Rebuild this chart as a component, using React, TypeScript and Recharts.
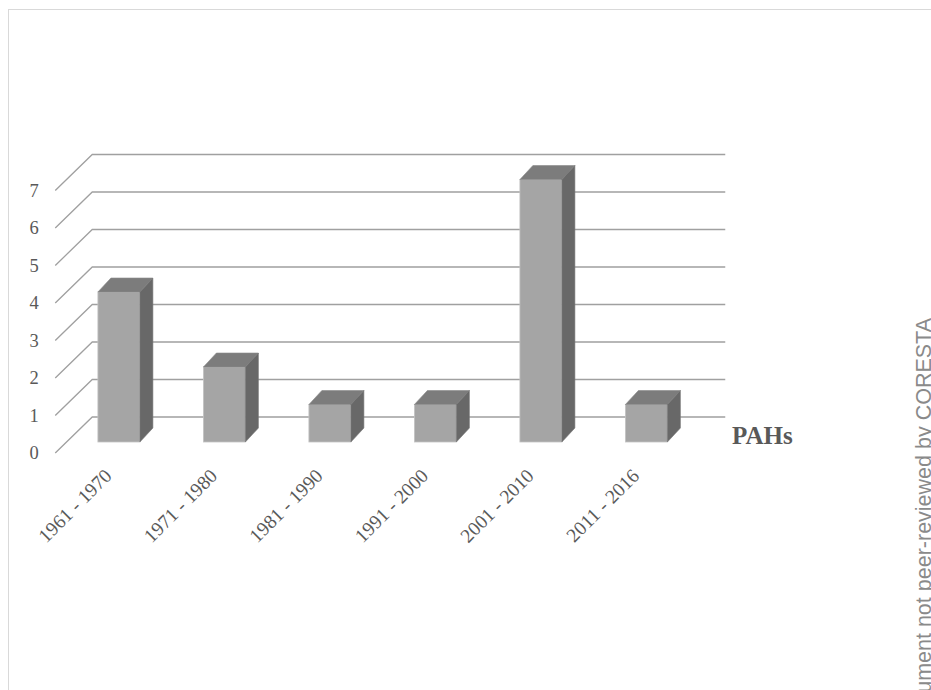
import { BarChart, Bar, XAxis, YAxis, CartesianGrid } from "recharts";

const categories = ["1961 - 1970", "1971 - 1980", "1981 - 1990", "1991 - 2000", "2001 - 2010", "2011 - 2016"];
const counts = [4, 2, 1, 1, 7, 1];
const yTicks = [0, 1, 2, 3, 4, 5, 6, 7];

const data = categories.map((name, i) => ({ name, value: counts[i] }));

// 3d offsets (depth of bars / walls)
const DX = 13;
const DY = 14;
const SERIF = "'Liberation Serif', 'Times New Roman', serif";
const LABEL = "#595959";

const Bar3D = (p: any) => {
  const { x, y, width, height } = p;
  if (!height) return null;
  const top = `${x},${y} ${x + DX},${y - DY} ${x + width + DX},${y - DY} ${x + width},${y}`;
  const side = `${x + width},${y} ${x + width + DX},${y - DY} ${x + width + DX},${y + height - DY} ${x + width},${y + height}`;
  return (
    <g>
      <rect x={x} y={y} width={width} height={height} fill="#a5a5a5" stroke="#c4c4c4" strokeWidth={0.8} />
      <polygon points={top} fill="#7c7c7c" stroke="#8a8a8a" strokeWidth={0.6} />
      <polygon points={side} fill="#686868" stroke="#777" strokeWidth={0.6} />
    </g>
  );
};

// slanted side-wall line + back-wall line for each y tick
const gridLine = (p: any) => {
  const { x1, x2, y1, index } = p;
  const fy = y1 + 11;
  const by = y1 - 25;
  const fx = x1 - 11;
  const bx = x1 + 26;
  return (
    <g key={`g-${index}`}>
      <polyline points={`${fx},${fy} ${bx},${by} ${x2 + 26},${by}`} fill="none" stroke="#a0a0a0" strokeWidth={1.3} />
    </g>
  );
};

const YTick = (p: any) => {
  const { y, payload } = p;
  return (
    <text x={34} y={y + 17} textAnchor="middle" fontFamily={SERIF} fontSize={18.5} fill={LABEL}>
      {payload.value}
    </text>
  );
};

const XTick = (p: any) => {
  const { x, payload } = p;
  const bx = x - 6;
  const by = 477;
  return (
    <text x={bx} y={by} textAnchor="end" transform={`rotate(-45 ${bx} ${by})`} fontFamily={SERIF} fontSize={19.5} fill={LABEL}>
      {payload.value}
    </text>
  );
};

export default function App() {
  return (
    <div style={{ position: "absolute", left: 0, top: 0, width: 931, height: 690, overflow: "hidden", background: "#fff" }}>
      <div style={{ position: "absolute", left: 8, top: 9, width: 940, height: 700, border: "1px solid #d9d9d9" }} />
      <div style={{ position: "absolute", left: 0, top: 0 }}>
        <BarChart
          width={931}
          height={690}
          data={data}
          margin={{ top: 179.5, right: 231.75, bottom: 218, left: 26.25 }}
          barCategoryGap="30%"
        >
          <CartesianGrid vertical={false} horizontal={gridLine} />
          <XAxis dataKey="name" axisLine={false} tickLine={false} height={30} tick={XTick} interval={0} />
          <YAxis domain={[0, 7]} ticks={yTicks} width={40} axisLine={false} tickLine={false} tick={YTick} interval={0} />
          <Bar dataKey="value" isAnimationActive={false} shape={Bar3D} />
        </BarChart>
      </div>
      <svg width={931} height={690} style={{ position: "absolute", left: 0, top: 0, pointerEvents: "none" }}>
        <text x={732} y={444} fontFamily={SERIF} fontWeight="bold" fontSize={25} fill={LABEL}>
          PAHs
        </text>
        <text
          x={931}
          y={318}
          textAnchor="end"
          transform="rotate(-90 931 318)"
          fontFamily="'Liberation Sans', Arial, sans-serif"
          fontSize={21.5}
          fill="#8a8a8a"
        >
          Document not peer-reviewed by CORESTA
        </text>
      </svg>
    </div>
  );
}
